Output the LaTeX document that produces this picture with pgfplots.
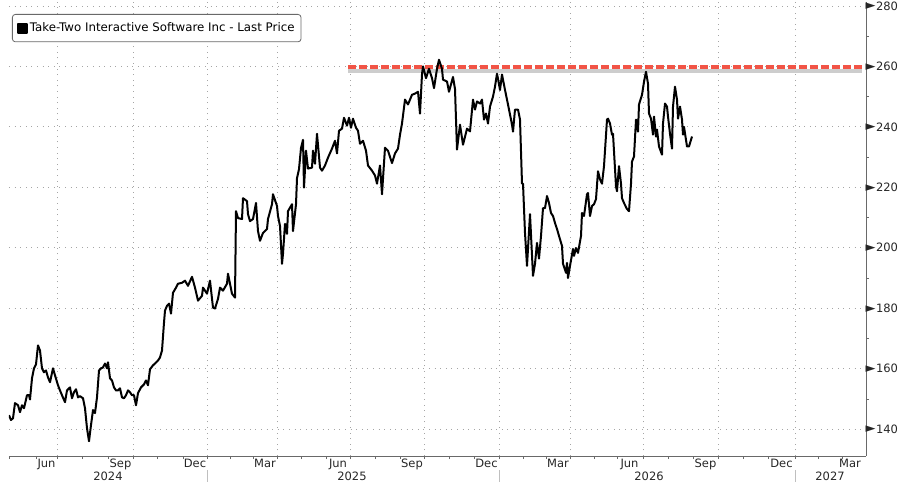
\documentclass[border=0pt]{standalone}
\usepackage{pgfplots}
\usepackage{pgfplotstable}
\pgfplotsset{compat=1.18}
\usepackage{fontspec}
\setmainfont{DejaVu Sans}
\definecolor{gridgray}{RGB}{165,165,165}
\definecolor{refred}{RGB}{242,84,70}
\definecolor{axgray}{RGB}{105,105,105}
\definecolor{shadowgray}{RGB}{205,205,205}

% x = position on the time axis (1 unit = 1pt), y = last price
\pgfplotstableread{
x y
9 144.6
11 143.0
13 143.6
15 148.6
18 147.9
20 145.6
22 147.9
24 146.9
27 151.2
29 151.2
30 149.8
32 156.8
34 160.1
36 161.4
38 167.7
40 166.0
42 160.1
44 158.8
46 159.4
48 157.1
50 155.5
53 160.1
55 157.8
58 154.5
60 152.8
62 151.2
65 148.9
67 152.8
70 153.8
72 150.2
74 152.2
76 153.2
78 150.5
80 150.9
83 150.2
85 146.9
87 140.3
89 136.0
91 141.3
93 146.3
95 145.3
97 150.5
99 159.4
101 160.1
103 160.4
105 161.7
107 160.1
108 162.1
110 156.8
112 156.1
114 153.8
116 152.8
118 152.8
120 153.5
122 150.5
124 150.2
126 151.2
128 152.8
130 152.2
132 151.2
134 151.2
136 147.9
138 151.9
141 153.8
144 154.8
146 156.1
148 154.5
150 159.8
153 161.1
155 161.7
158 162.7
160 163.7
162 166.0
164 175.2
165 179.2
167 180.8
169 181.5
171 178.2
173 185.1
176 186.8
178 188.1
182 188.4
185 189.1
188 187.4
192 190.4
195 186.8
198 182.5
202 184.1
203 186.8
207 184.8
210 189.1
213 180.2
215 179.9
218 183.1
220 186.8
223 185.8
227 188.1
228 191.4
232 184.8
235 183.5
236 212.1
238 209.8
242 209.5
243 216.4
247 215.4
248 211.1
250 208.8
253 209.5
256 214.8
258 205.5
260 202.3
263 204.9
267 206.2
268 209.5
272 214.4
273 217.7
277 213.8
278 210.5
280 207.2
282 194.7
283 198.0
285 207.9
287 204.6
288 212.1
292 214.4
293 205.5
296 214.4
297 223.0
299 226.0
301 233.0
303 235.7
304 219.9
306 232.1
308 226.2
312 226.5
313 232.1
315 227.8
317 237.7
320 226.5
322 225.5
325 227.2
328 229.8
332 232.8
335 235.4
337 231.2
339 238.7
342 239.4
344 243.0
347 240.4
349 243.0
351 239.7
353 242.7
356 239.7
358 238.7
360 234.4
363 235.4
366 232.1
368 227.2
372 225.5
375 223.9
377 221.2
380 227.2
382 217.7
385 233.1
388 232.1
392 228.0
395 231.2
398 232.8
400 237.4
402 241.1
405 249.0
408 247.4
412 250.6
415 251.0
418 251.6
420 244.4
422 257.4
423 260.0
426 256.1
429 259.2
432 256.1
434 252.8
437 259.2
439 262.2
442 259.2
443 255.6
447 255.0
449 251.6
453 256.5
455 252.5
457 232.5
460 240.7
463 234.1
467 239.4
470 238.5
473 249.0
475 245.7
477 248.4
480 247.7
482 249.0
484 242.4
486 244.4
488 241.1
490 246.7
493 250.0
495 253.3
497 257.6
498 255.9
500 252.2
502 257.3
503 255.6
505 252.2
507 249.0
509 245.7
511 242.4
512 240.7
513 238.4
515 245.7
518 245.7
520 242.4
522 221.2
523 221.2
525 204.9
527 194.0
530 211.1
533 190.7
535 194.7
537 201.6
539 196.4
541 203.9
543 213.1
545 213.1
547 217.1
549 214.8
551 211.5
553 210.5
555 208.2
557 206.2
559 203.9
562 200.6
563 194.7
566 191.7
567 195.0
568 190.0
570 194.0
573 199.6
574 197.3
576 199.9
578 198.3
581 203.9
582 211.5
584 210.5
587 217.7
588 218.1
590 210.5
592 213.8
594 214.4
596 216.1
598 225.3
600 222.6
602 221.2
604 227.0
607 242.4
608 242.7
610 241.1
612 237.4
613 237.7
616 220.3
617 218.7
619 227.0
621 221.2
622 216.4
624 214.8
627 212.8
629 212.1
631 221.2
632 228.5
634 230.2
636 242.4
638 238.4
639 247.4
642 250.6
644 254.9
646 258.2
648 254.3
649 244.4
651 242.7
653 237.4
654 243.4
656 236.8
657 239.1
659 233.5
662 230.8
663 241.1
665 247.7
667 246.7
668 243.4
670 237.7
672 232.8
673 246.7
675 253.3
677 249.0
678 242.7
680 246.7
682 242.4
683 237.4
684 240.0
687 233.5
689 233.5
692 236.8
}\price

\begin{document}
\begin{tikzpicture}
\begin{axis}[
  scale only axis, width=857pt, height=454pt,
  xmin=9, xmax=866, ymin=131.1, ymax=281.3,
  axis x line*=bottom, axis y line*=right,
  axis line style={axgray, line width=0.8pt},
  tick align=outside,
  major tick length=3pt, minor tick length=3pt,
  /pgf/number format/assume math mode=true,
  tick label style={font=\fontsize{11.5}{13}\selectfont, text=black!85},
  xtick={57.7,133,207,277,350,424,499,570,643,718,795},
  xticklabels={},
  minor xtick={9,36,82.7,108,157,183,230,253,301,326,375,400,449,474,523,546,594,617,668,693,743,768,818,842},
  every major x tick/.style={axgray, line width=0.6pt},
  every minor x tick/.style={axgray, line width=0.6pt},
  extra x ticks={46.5,120.5,195,265,338,412,486.5,558,629.5,705.5,781.5,850},
  extra x tick labels={Jun,Sep,Dec,Mar,Jun,Sep,Dec,Mar,Jun,Sep,Dec,Mar},
  extra x tick style={grid=none, major tick length=0pt,
     tick label style={anchor=north, inner sep=0pt, yshift=-3pt}},
  ytick={140,160,...,280},
  minor ytick={150,170,...,270},
  every major y tick/.style={draw=none},
  every minor y tick/.style={axgray, line width=0.6pt},
  yticklabel={\raisebox{0.3pt}{\fontsize{13}{13}\selectfont ►}\hspace{0.3pt}\pgfmathprintnumber{\tick}},
  yticklabel style={anchor=west, inner sep=0pt, xshift=-3.5pt},
  grid=major,
  major grid style={gridgray, dash pattern=on 1pt off 4.6pt, line width=0.7pt},
  legend style={at={(axis description cs:0.0035,0.9736)}, anchor=north west,
     draw=axgray, rounded corners=3pt, line width=0.8pt,
     font=\fontsize{11.8}{13}\selectfont, inner xsep=4.5pt, inner ysep=6.5pt,
     cells={anchor=west}},
  legend image code/.code={\fill[black, sharp corners] (0pt,-4.5pt) rectangle (9pt,4.5pt);},
]
\addplot[shadowgray, line width=3.8pt, forget plot] coordinates {(348,258.5) (862,258.5)};
\addplot[refred, line width=3.2pt, dash pattern=on 8pt off 3pt, forget plot] coordinates {(348,259.8) (862,259.8)};
\addplot[black, line width=2pt, line join=round] table[x=x, y=y] {\price};
\addlegendentry{Take-Two Interactive Software Inc - Last Price}
\end{axis}
% year labels and separators in the second row of the time axis
\begin{scope}[font=\fontsize{11.5}{13}\selectfont]
\node[anchor=north, inner sep=0pt, text=black!85] at (99pt,-15.5pt) {2024};
\node[anchor=north, inner sep=0pt, text=black!85] at (343pt,-15.5pt) {2025};
\node[anchor=north, inner sep=0pt, text=black!85] at (640pt,-15.5pt) {2026};
\node[anchor=north, inner sep=0pt, text=black!85] at (821pt,-15.5pt) {2027};
\end{scope}
\foreach \sx in {198,490,786} \draw[black!25, line width=0.8pt] (\sx pt,-14pt) -- (\sx pt,-27pt);
\pgfresetboundingbox
\path[use as bounding box] (-9pt,-26pt) rectangle (891pt,456pt);
\end{tikzpicture}
\end{document}
